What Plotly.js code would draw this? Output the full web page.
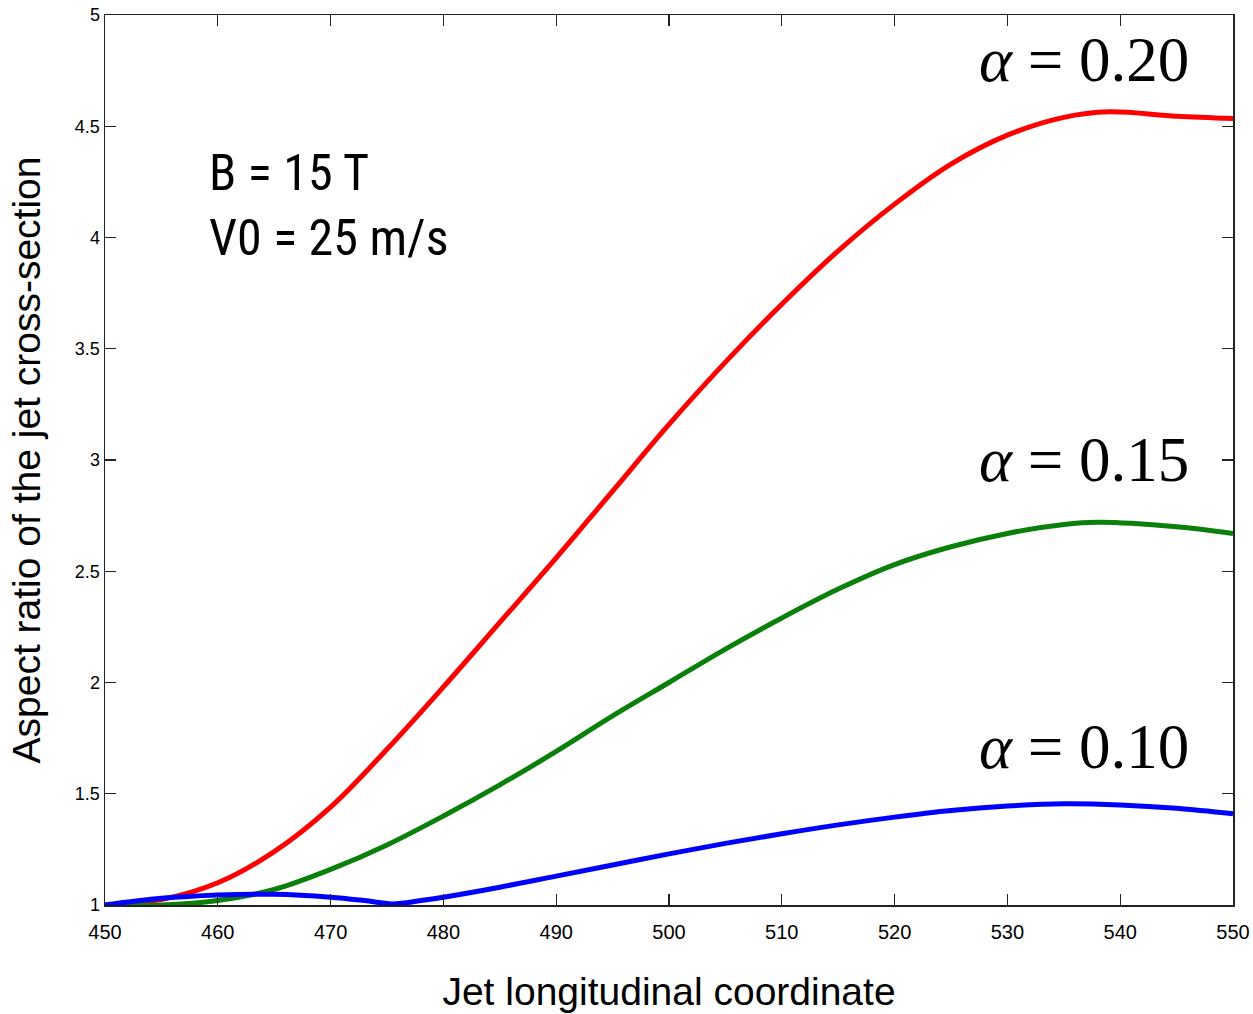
<!DOCTYPE html>
<html>
<head>
<meta charset="utf-8">
<script src="https://cdn.plot.ly/plotly-3.0.1.min.js"></script>
<style>
html,body{margin:0;padding:0;background:#fff;}
#chart{width:1253px;height:1014px;}
</style>
</head>
<body>
<div id="chart"></div>
<script>
// Data
const xRed   = [450, 455, 460, 465, 470, 475, 480, 485, 490, 495, 500, 505, 510, 515, 520, 525, 530, 535, 539, 545, 550];
const yRed   = [1.00, 1.025, 1.10, 1.24, 1.44, 1.70, 1.98, 2.27, 2.56, 2.86, 3.16, 3.44, 3.70, 3.94, 4.15, 4.33, 4.46, 4.54, 4.565, 4.545, 4.535];

const xGreen = [450, 455, 460, 465, 470, 475, 480, 485, 490, 495, 500, 505, 510, 515, 520, 525, 530, 535, 538, 545, 550];
const yGreen = [1.00, 1.00, 1.02, 1.07, 1.16, 1.27, 1.40, 1.54, 1.69, 1.85, 2.00, 2.15, 2.29, 2.42, 2.53, 2.61, 2.67, 2.71, 2.72, 2.70, 2.67];

const xBlue  = [450, 455, 460, 465, 470, 473, 475.5, 478, 480, 485, 490, 495, 500, 505, 510, 515, 520, 525, 530, 535, 540, 545, 550];
const yBlue  = [1.00, 1.03, 1.045, 1.048, 1.035, 1.02, 1.005, 1.02, 1.035, 1.08, 1.13, 1.18, 1.23, 1.277, 1.32, 1.36, 1.395, 1.425, 1.445, 1.455, 1.45, 1.435, 1.41];

const xTicks = [450, 460, 470, 480, 490, 500, 510, 520, 530, 540, 550];
const yTicks = [1, 1.5, 2, 2.5, 3, 3.5, 4, 4.5, 5];
const yTickText = ["1", "1.5", "2", "2.5", "3", "3.5", "4", "4.5", "5"];

const seriesLabels = ["α = 0.20", "α = 0.15", "α = 0.10"];
const labelY = [4.80, 3.00, 1.71];
const paramLines = ["B = 15 T", "V0 = 25 m/s"];

const sans = "Liberation Sans, Arial, sans-serif";
const serif = "Liberation Serif, Times New Roman, serif";

const traces = [
  {x: xRed, y: yRed, mode: "lines", line: {color: "#ff0000", width: 5, shape: "spline", smoothing: 1}, name: seriesLabels[0]},
  {x: xGreen, y: yGreen, mode: "lines", line: {color: "#0a800a", width: 5, shape: "spline", smoothing: 1}, name: seriesLabels[1]},
  {x: xBlue, y: yBlue, mode: "lines", line: {color: "#0000ff", width: 5, shape: "spline", smoothing: 1}, name: seriesLabels[2]}
];

function alphaText(s) {
  return s.replace("α", "<i>α</i>");
}

const annotations = [];
for (let i = 0; i < seriesLabels.length; i++) {
  annotations.push({
    x: 550, y: labelY[i], xref: "x", yref: "y",
    text: alphaText(seriesLabels[i]),
    showarrow: false, xanchor: "right", yanchor: "middle", xshift: -42,
    font: {family: serif, size: 63, color: "#000"}
  });
}
annotations.push({
  x: 459, y: 4.43, xref: "x", yref: "y",
  text: paramLines[0] + "<br>" + paramLines[1],
  showarrow: false, xanchor: "left", yanchor: "top", align: "left",
  font: {family: "Liberation Sans Narrow, Roboto Condensed, Arial Narrow, sans-serif", size: 50, color: "#000"}
});

const layout = {
  width: 1253, height: 1014,
  paper_bgcolor: "#fff", plot_bgcolor: "#fff",
  showlegend: false,
  margin: {l: 105, r: 20, t: 15, b: 109},
  xaxis: {
    range: [450, 550], tickvals: xTicks, ticktext: xTicks.map(String),
    ticks: "inside", ticklen: 11, tickwidth: 1.2, tickcolor: "#222",
    showline: true, linecolor: "#222", linewidth: 1.5, mirror: "ticks",
    showgrid: false, zeroline: false, ticklabelstandoff: 8,
    tickfont: {family: sans, size: 20, color: "#000"},
    title: {text: "Jet longitudinal coordinate", font: {family: sans, size: 39, color: "#000"}, standoff: 36}
  },
  yaxis: {
    range: [1, 5], tickvals: yTicks, ticktext: yTickText,
    ticks: "inside", ticklen: 11, tickwidth: 1.2, tickcolor: "#222",
    showline: true, linecolor: "#222", linewidth: 1.5, mirror: "ticks",
    showgrid: false, zeroline: false,
    tickfont: {family: sans, size: 18, color: "#000"},
    title: {text: "Aspect ratio of the jet cross-section", font: {family: sans, size: 39, color: "#000"}, standoff: 22}
  },
  annotations: annotations
};

Plotly.newPlot("chart", traces, layout, {displayModeBar: false, staticPlot: true});
</script>
</body>
</html>
